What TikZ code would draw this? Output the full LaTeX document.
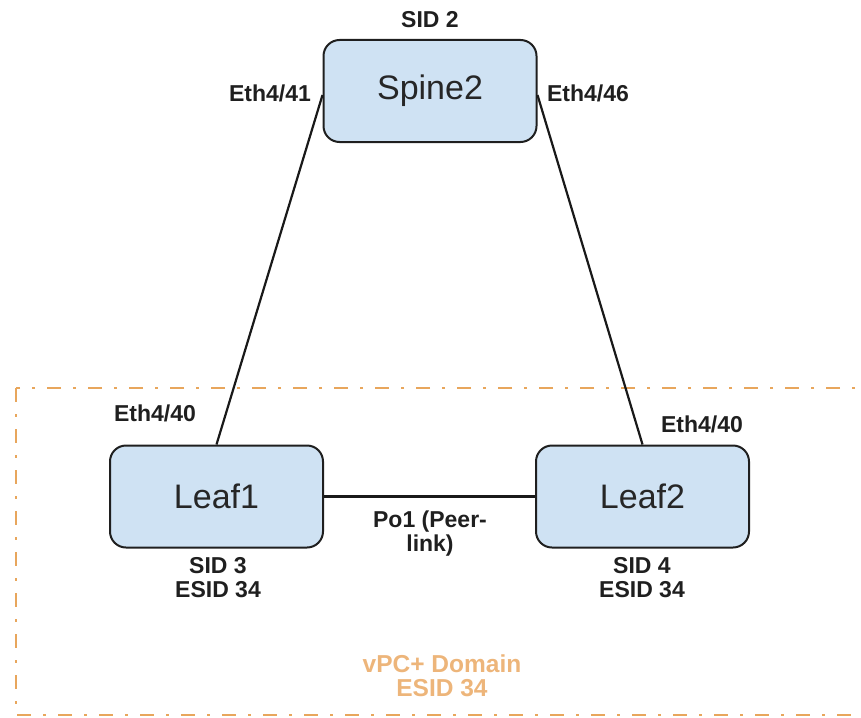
\documentclass[tikz,border=0pt]{standalone}
\usepackage{fontspec}
\setmainfont{Liberation Sans}
\definecolor{boxfill}{HTML}{CFE2F3}
\definecolor{boxline}{HTML}{1F1F1F}
\definecolor{domorange}{HTML}{E8A65C}
\definecolor{domtext}{HTML}{EDB57A}
\begin{document}
\begin{tikzpicture}[x=1pt,y=-1pt,
  switchbox/.style={draw=boxline, line width=2pt, fill=boxfill, rounded corners=16pt,
     minimum width=213pt, minimum height=102pt, inner sep=0pt, font=\fontsize{34}{38}\selectfont, text=black!85},
  lbl/.style={font=\bfseries\fontsize{23}{24}\selectfont, text=black!88, align=center, inner sep=0pt},
  link/.style={draw=black!90, line width=2.2pt}]
\useasboundingbox (0,0) rectangle (861,717);
\begin{scope}
\clip (0,0) rectangle (861,717);
\draw[domorange, line width=2.5pt, dash pattern=on 14pt off 12pt on 3pt off 12pt] (16,388) rectangle (880,715);
\end{scope}
\node[switchbox] (spine) at (430,91) {Spine2};
\node[switchbox] (leaf1) at (216.5,496.5) {Leaf1};
\node[switchbox] (leaf2) at (642.5,496.5) {Leaf2};
\coordinate (sl) at ([yshift=-4pt]spine.west);
\coordinate (sr) at ([yshift=-4pt]spine.east);
\draw[link] (sl) -- (leaf1.north);
\draw[link] (sr) -- (leaf2.north);
\draw[link] (leaf1.east) -- (leaf2.west);
\node[lbl] (sid2) at (430,20) {SID 2};
\node[lbl] (e41) at (270,93) {Eth4/41};
\node[lbl] (e46) at (588,93) {Eth4/46};
\node[lbl] (e40a) at (155,413) {Eth4/40};
\node[lbl] (e40b) at (702,424) {Eth4/40};
\node[lbl] (po1) at (430,534) {Po1 (Peer-\\link)};
\node[lbl] (s3) at (218,578) {SID 3\\ESID 34};
\node[lbl] (s4) at (642,578) {SID 4\\ESID 34};
\node[lbl, text=domtext, font=\bfseries\fontsize{24.5}{24}\selectfont] (dom) at (442,676) {vPC+ Domain\\ESID 34};
\end{tikzpicture}
\end{document}
